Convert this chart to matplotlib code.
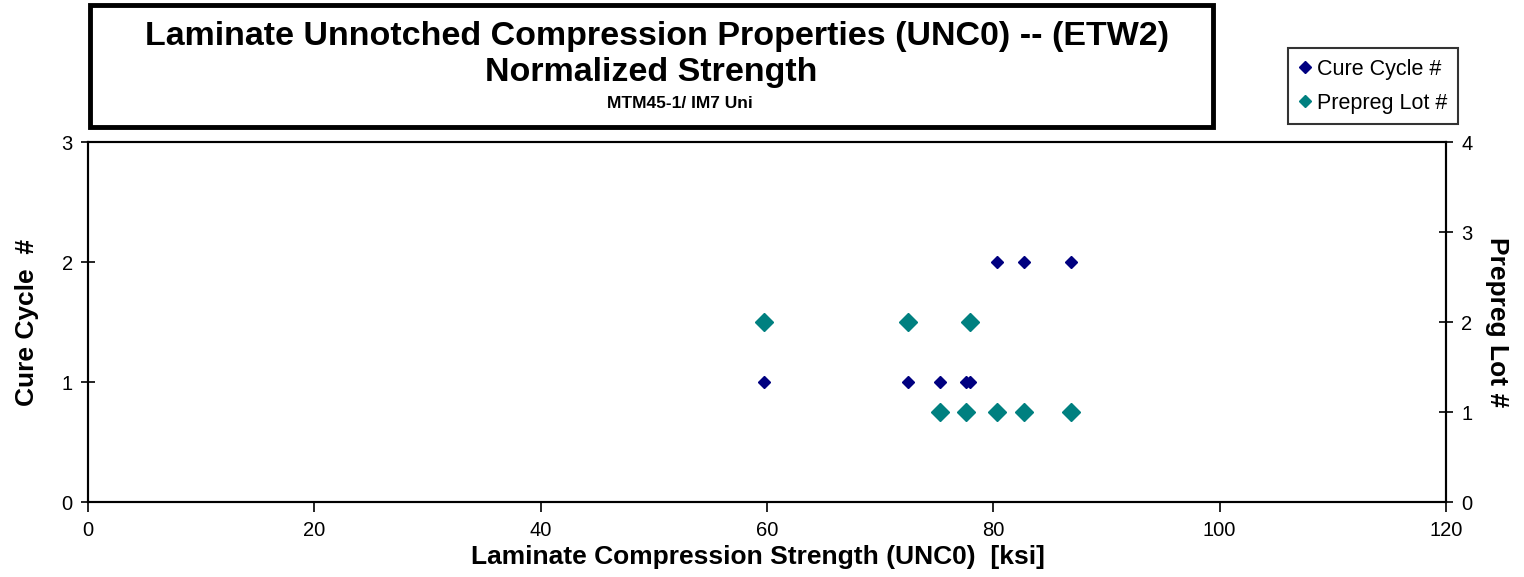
import matplotlib.pyplot as plt
from matplotlib.patches import Rectangle
from matplotlib.lines import Line2D

plt.rcParams['font.family'] = ['Liberation Sans', 'DejaVu Sans']

# strength values [ksi]
cure1_x = [59.76, 72.48, 75.31, 77.58, 77.94]
cure2_x = [80.30, 82.71, 86.83]
lot2_x = [59.76, 72.48, 77.94]
lot1_x = [75.31, 77.58, 80.30, 82.71, 86.83]

cure_x = cure1_x + cure2_x
cure_y = [1] * len(cure1_x) + [2] * len(cure2_x)
lot_x = lot2_x + lot1_x
lot_y = [2] * len(lot2_x) + [1] * len(lot1_x)

navy = '#000080'
teal = '#008080'

fig = plt.figure(figsize=(15.24, 5.77), dpi=100)
ax = fig.add_axes([88/1524, 1-502/577, (1446-88)/1524, (502-142)/577])
ax2 = ax.twinx()

ax.plot(cure_x, cure_y, 'D', color=navy, ms=6.5, zorder=3)
ax2.plot(lot_x, lot_y, 'D', color=teal, ms=9, zorder=2)

ax.set_xlim(0, 120)
ax.set_ylim(0, 3)
ax2.set_ylim(0, 4)
ax.set_xticks(range(0, 121, 20))
ax.set_yticks([0, 1, 2, 3])
ax2.set_yticks([0, 1, 2, 3, 4])

for a in (ax, ax2):
    for s in a.spines.values():
        s.set_linewidth(1.5)
ax.tick_params(axis='x', direction='out', length=7, width=1.2, labelsize=14.5, pad=7)
ax.tick_params(axis='y', direction='inout', length=10, width=1.2, labelsize=14.5, pad=6)
ax2.tick_params(axis='y', direction='inout', length=10, width=1.2, labelsize=14.5, pad=6)

ax.set_xlabel('Laminate Compression Strength (UNC0)  [ksi]', fontsize=19,
              fontweight='bold')
ax.xaxis.set_label_coords(0.4935, -0.12)
ax.set_ylabel('Cure Cycle  #', fontsize=19, fontweight='bold', labelpad=16)
ax2.set_ylabel('Prepreg Lot #', fontsize=19, fontweight='bold', rotation=270,
               labelpad=26)

# title box
fig.patches.append(Rectangle((90/1524, 1-127/577), (1213-90)/1524, (127-5)/577,
                             transform=fig.transFigure, fill=False,
                             edgecolor='black', linewidth=3.5))
fig.text(657/1524, 1-36/577, 'Laminate Unnotched Compression Properties (UNC0) -- (ETW2)',
         ha='center', va='center', fontsize=24.5, fontweight='bold')
fig.text(651/1524, 1-73/577, 'Normalized Strength',
         ha='center', va='center', fontsize=24.5, fontweight='bold')
fig.text(680/1524, 1-104/577, 'MTM45-1/ IM7 Uni',
         ha='center', va='center', fontsize=12.5, fontweight='bold')

handles = [Line2D([], [], ls='none', marker='D', color=navy, ms=6.5),
           Line2D([], [], ls='none', marker='D', color=teal, ms=6.5)]
leg = fig.legend(handles, ['Cure Cycle #', 'Prepreg Lot #'], loc='upper left',
                 bbox_to_anchor=(1288/1524, 1-48/577), fontsize=15.5,
                 frameon=True, fancybox=False, edgecolor='black',
                 handlelength=0.6, handletextpad=0.25, labelspacing=0.6,
                 borderpad=0.5, borderaxespad=0)
leg.get_frame().set_linewidth(1.5)

fig.savefig('out.png', dpi=100)
